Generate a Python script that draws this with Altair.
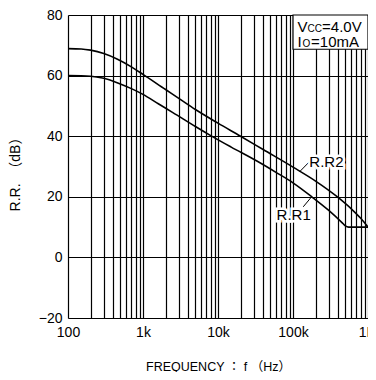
import altair as alt
import pandas as pd

# R.R1 curve
freq_rr1 = [100, 200, 300, 470, 700, 1000, 1600, 2500, 5000, 8000, 15000, 33000,
            60000, 100000, 178000, 300000, 450000, 500000, 550000, 1000000]
rr1 = [60, 59.8, 59.1, 57.5, 55.7, 53.8, 50.7, 47.8, 43.2, 40.2, 36.4, 31.8,
       28.0, 24.6, 20, 15.5, 11.5, 10.4, 10, 10]

# R.R2 curve
freq_rr2 = [100, 150, 200, 300, 450, 700, 1000, 2000, 3000, 5000, 10000, 20000,
            40000, 100000, 200000, 380000, 600000, 800000, 1000000]
rr2 = [68.9, 68.8, 68.4, 67.3, 65.5, 62.9, 60.4, 55.4, 52.5, 48.8, 44.3, 40.0,
       35.6, 29.8, 25.2, 20.2, 16.0, 12.9, 10]

x_ticks = [m * 10 ** k for k in range(2, 6) for m in range(1, 10)] + [1000000]
y_ticks = list(range(-20, 81, 10))

FONT = "Liberation Sans, Arial, Helvetica, Noto Sans CJK JP, sans-serif"

df = pd.concat([
    pd.DataFrame({"f": freq_rr1, "rr": rr1, "s": "R.R1"}),
    pd.DataFrame({"f": freq_rr2, "rr": rr2, "s": "R.R2"}),
])

xscale = alt.Scale(type="log", domain=[100, 1000000], nice=False)
yscale = alt.Scale(domain=[-20, 80], nice=False, zero=False)

x_axis = alt.Axis(
    values=x_ticks, grid=True, gridColor="black", gridWidth=1.2, gridOpacity=1,
    ticks=False, domain=False, labelFlush=False, labelOverlap=False, labelBound=False,
    labelExpr="datum.value == 100 ? '100' : datum.value == 1000 ? '1k' : datum.value == 10000 ? '10k' : datum.value == 100000 ? '100k' : datum.value == 1000000 ? '1M' : ''",
    labelFontSize=14, labelFont=FONT, labelColor="black", labelPadding=7,
    title="FREQUENCY ： f （Hz）", titleFont=FONT, titleFontSize=12.5, titleFontWeight="normal",
    titleColor="black", titleY=48, titleBaseline="middle",
)
y_axis = alt.Axis(
    values=y_ticks, grid=True, gridColor="black", gridWidth=1.2, gridOpacity=1,
    ticks=False, domain=False, labelOverlap=False, labelFlush=False,
    labelExpr="datum.value == -20 ? '−20' : (datum.value % 20 == 0 ? '' + datum.value : '')",
    labelFontSize=14, labelFont=FONT, labelColor="black", labelPadding=6,
    title="R.R.\u00a0 （dB）", titleFont=FONT, titleFontSize=14, titleFontWeight="normal",
    titleColor="black", titleX=-52.5, titleY=155.5, titleAngle=270,
    titleAlign="center", titleBaseline="middle",
)

lines = alt.Chart(df).mark_line(color="black", strokeWidth=1.6, interpolate="monotone").encode(
    x=alt.X("f:Q", scale=xscale, axis=x_axis),
    y=alt.Y("rr:Q", scale=yscale, axis=y_axis),
    detail="s:N",
)

# annotation box
box_df = pd.DataFrame({"x1": [100000], "x2": [1000000], "y1": [68.7], "y2": [80]})
box = alt.Chart(box_df).mark_rect(fill="white", stroke="black", strokeWidth=1.2).encode(
    x=alt.X("x1:Q", scale=xscale), x2="x2:Q",
    y=alt.Y("y1:Q", scale=yscale), y2="y2:Q",
)

def txt(fx, fy, s, size, dx=0, dy=0, halo=False):
    d = pd.DataFrame({"x": [fx], "y": [fy], "t": [s]})
    enc = dict(x=alt.X("x:Q", scale=xscale), y=alt.Y("y:Q", scale=yscale), text="t:N")
    layers = []
    if halo:
        layers.append(alt.Chart(d).mark_text(font=FONT, fontSize=size, color="white", stroke="white",
                                             strokeWidth=5, align="center", baseline="middle",
                                             dx=dx, dy=dy).encode(**enc))
        layers.append(alt.Chart(d).mark_text(font=FONT, fontSize=size, color="black",
                                             align="center", baseline="middle", dx=dx, dy=dy).encode(**enc))
    else:
        layers.append(alt.Chart(d).mark_text(font=FONT, fontSize=size, color="black",
                                             align="left", baseline="middle", dx=dx, dy=dy).encode(**enc))
    return layers

ann = []
ann += txt(115000, 76, "V", 15)
ann += txt(115000, 76, "CC", 10, dx=10, dy=2)
ann += txt(115000, 76, "=4.0V", 15, dx=24.5)
ann += txt(115000, 71.2, "I", 15)
ann += txt(115000, 71.2, "O", 10, dx=5, dy=2)
ann += txt(115000, 71.2, "=10mA", 15, dx=13.5)

# curve labels with leaders
lead_df = pd.DataFrame({"x1": [122800, 177000], "x2": [166000, 137000],
                        "y1": [28.3, 20.0], "y2": [31.6, 16.7]})
leaders = alt.Chart(lead_df).mark_rule(color="black", strokeWidth=1).encode(
    x=alt.X("x1:Q", scale=xscale), x2="x2:Q",
    y=alt.Y("y1:Q", scale=yscale), y2="y2:Q",
)
labels = []
labels += txt(279000, 31.6, "R.R2", 15, halo=True)
labels += txt(102000, 14.0, "R.R1", 15, halo=True)

chart = alt.layer(lines, box, leaders, *labels, *ann).properties(
    width=300, height=303,
    padding={"left": 60, "top": 7, "right": 0, "bottom": 54},
    autosize=alt.AutoSizeParams(type="none"),
).configure_view(stroke="black", strokeWidth=2).configure(background="white")

chart.save("out.html", embed_options={"renderer": "svg", "actions": False})
